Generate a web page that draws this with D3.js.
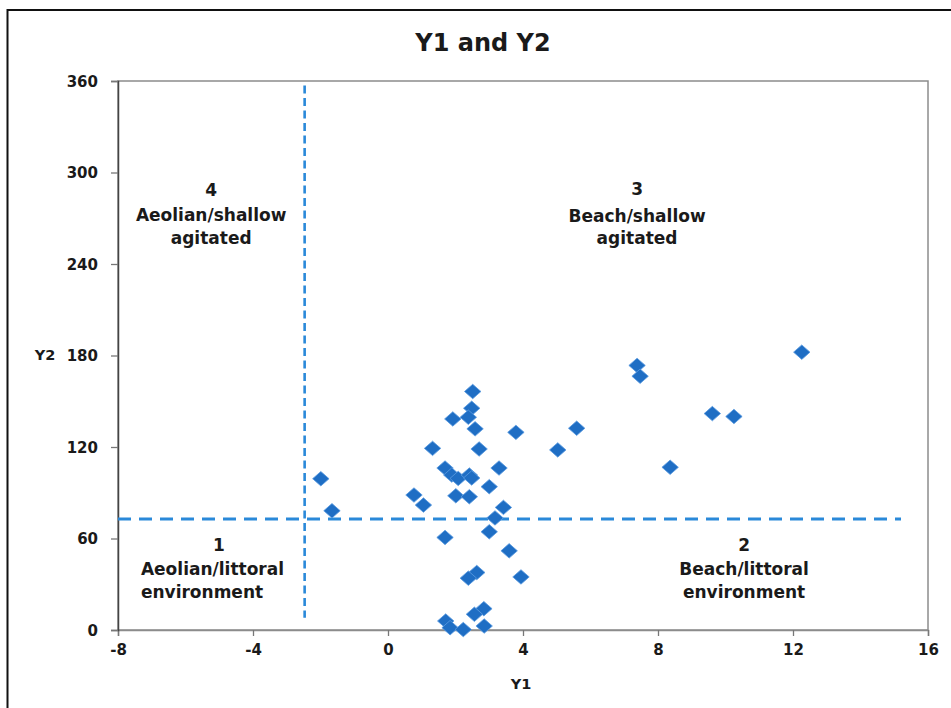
<!DOCTYPE html>
<html>
<head>
<meta charset="utf-8">
<script src="https://cdn.jsdelivr.net/npm/d3@7"></script>
<style>
  body { margin: 0; background: #fff; }
  svg text { font-family: "DejaVu Sans", sans-serif; font-weight: bold; fill: #1a1a1a; }
</style>
</head>
<body>
<svg id="chart" width="951" height="708"></svg>
<script>
// values
var y1 = [2.51, 2.48, 1.92, 2.38, 2.58, 3.79, 1.32, 2.70, 5.03, 1.69, 3.29, 1.89, 2.08, 2.41, 2.48,
          3.00, 0.77, 2.01, 2.41, 1.05, 3.42, 3.17, 3.00, 1.69, 3.59, 2.63, 2.38, 3.94, 2.84, 2.56,
          1.71, 1.84, 2.23, 2.85, -1.99, -1.66, 7.38, 7.47, 5.59, 9.61, 10.25, 8.36, 12.26];
var y2 = [156.4, 145.4, 138.4, 139.5, 131.9, 129.6, 119.1, 118.7, 118.1, 106.2, 106.2, 101.6, 99.4, 101.6, 99.7,
          94.0, 88.5, 88.0, 87.4, 81.9, 80.4, 73.5, 64.4, 60.7, 51.9, 37.7, 34.0, 34.8, 14.0, 10.3,
          5.9, 1.5, 0.3, 2.6, 99.2, 78.2, 173.5, 166.4, 132.3, 141.9, 140.0, 106.7, 182.2];

var xTicks = [-8, -4, 0, 4, 8, 12, 16];
var yTicks = [0, 60, 120, 180, 240, 300, 360];

// boundary lines between the four fields
var hLineX = [-8, 15.2], hLineY = 72.8;
var vLineX = -2.47, vLineY = [8, 357];

// field labels: text lines, x (data units) and baseline (data units)
var zoneText = [
  ['4', 'Aeolian/shallow', 'agitated'],
  ['3', 'Beach/shallow', 'agitated'],
  ['1', 'Aeolian/littoral', 'environment'],
  ['2', 'Beach/littoral', 'environment']
];
var zoneX = [[-5.24, -5.24, -5.24], [7.38, 7.38, 7.38], [-5.01, -7.32, -7.32], [10.55, 10.55, 10.55]];
var zoneY = [[284.6, 268.2, 253.1], [285.2, 267.5, 253.1], [51.8, 36.1, 21], [51.8, 36.1, 21]];
var zoneAnchor = [['middle', 'middle', 'middle'], ['middle', 'middle', 'middle'],
                  ['middle', 'start', 'start'], ['middle', 'middle', 'middle']];

var svg = d3.select('#chart');
var x = d3.scaleLinear().domain([-8, 16]).range([118, 928]);
var y = d3.scaleLinear().domain([0, 360]).range([630, 81]);

// outer chart frame
svg.append('rect')
  .attr('x', 7.5).attr('y', 10).attr('width', 960).attr('height', 720)
  .attr('fill', 'none').attr('stroke', '#111').attr('stroke-width', 2);

// plot area border
svg.append('rect')
  .attr('x', x(-8)).attr('y', y(360))
  .attr('width', x(16) - x(-8)).attr('height', y(0) - y(360))
  .attr('fill', 'none').attr('stroke', '#8c8c8c').attr('stroke-width', 1.5);

svg.append('text')
  .attr('x', 483).attr('y', 51)
  .attr('text-anchor', 'middle').style('font-size', '24px')
  .text('Y1 and Y2');

var xAxis = svg.append('g')
  .attr('transform', 'translate(0,' + y(0) + ')')
  .call(d3.axisBottom(x).tickValues(xTicks).tickSize(6).tickPadding(8).tickFormat(function(d) { return String(d); }));
var yAxis = svg.append('g')
  .attr('transform', 'translate(' + x(-8) + ',0)')
  .call(d3.axisLeft(y).tickValues(yTicks).tickSize(7).tickPadding(13));

xAxis.select('.domain').attr('stroke', '#8c8c8c').attr('stroke-width', 1.5);
yAxis.select('.domain').attr('stroke', '#444').attr('stroke-width', 1.5);
svg.selectAll('.tick line').attr('stroke', '#777').attr('stroke-width', 1.3);
svg.selectAll('.tick text').style('font-size', '15px').attr('fill', '#1a1a1a')
  .style('font-family', '"DejaVu Sans", sans-serif').style('font-weight', 'bold');
yAxis.selectAll('.tick text').attr('dy', '0.36em');

svg.append('text')
  .attr('x', 521).attr('y', 689).attr('text-anchor', 'middle')
  .style('font-size', '14.5px').text('Y1');
svg.append('text')
  .attr('x', 45).attr('y', 360).attr('text-anchor', 'middle')
  .style('font-size', '14.5px').text('Y2');

// dashed boundary lines
svg.append('line')
  .attr('x1', x(hLineX[0])).attr('x2', x(hLineX[1]))
  .attr('y1', y(hLineY)).attr('y2', y(hLineY))
  .attr('stroke', '#2a89d9').attr('stroke-width', 2.8)
  .attr('stroke-dasharray', '13,8');
svg.append('line')
  .attr('x1', x(vLineX)).attr('x2', x(vLineX))
  .attr('y1', y(vLineY[1])).attr('y2', y(vLineY[0]))
  .attr('stroke', '#2a89d9').attr('stroke-width', 2.6)
  .attr('stroke-dasharray', '8,4.5');

// field labels
zoneText.forEach(function(lines, k) {
  lines.forEach(function(t, i) {
    svg.append('text')
      .attr('x', x(zoneX[k][i])).attr('y', y(zoneY[k][i]))
      .attr('text-anchor', zoneAnchor[k][i])
      .style('font-size', '17px')
      .text(t);
  });
});

// points
var pts = y1.map(function(d, i) { return [d, y2[i]]; });
var diamond = d3.symbol().type(d3.symbolSquare).size(135);
svg.append('g').selectAll('path')
  .data(pts)
  .enter()
  .append('path')
  .attr('d', diamond)
  .attr('transform', function(d) {
    return 'translate(' + x(d[0]) + ',' + y(d[1]) + ') scale(1,0.88) rotate(45)';
  })
  .attr('fill', '#1f6ec4')
  .attr('stroke', '#5b9be0')
  .attr('stroke-width', 0.8);
</script>
</body>
</html>
